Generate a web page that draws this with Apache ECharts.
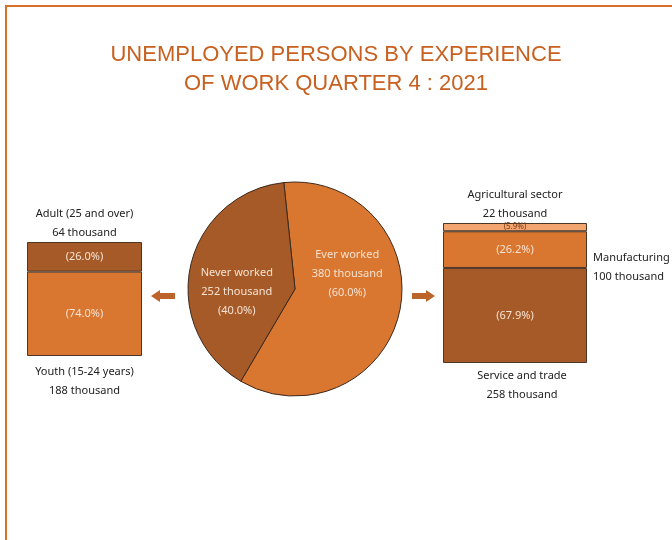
<!DOCTYPE html>
<html>
<head>
<meta charset="utf-8">
<script src="https://cdn.jsdelivr.net/npm/echarts@6/dist/echarts.min.js"></script>
<style>
html, body { margin: 0; padding: 0; background: #fff; }
#main { width: 672px; height: 540px; }
</style>
</head>
<body>
<div id="main"></div>
<script>
// unemployed persons, thousand
const pieNames = ['Ever worked', 'Never worked'];
const pieValues = [380, 252];
const piePct = [60.0, 40.0];

// never worked, by age (bottom -> top)
const ageNames = ['Youth (15-24 years)', 'Adult (25 and over)'];
const ageValues = [188, 64];
const agePct = [74.0, 26.0];

// ever worked, by sector (bottom -> top)
const sectorNames = ['Service and trade', 'Manufacturing', 'Agricultural sector'];
const sectorValues = [258, 100, 22];
const sectorPct = [67.9, 26.2, 5.9];

const DARK = '#a65a27';
const MID = '#d97630';
const LIGHT = '#f3a56f';
const txtFont = 'Noto Sans';

const chart = echarts.init(document.getElementById('main'));

function boxSeries(idx, names, values, pct, colors, outerPos) {
  const list = [];
  names.forEach(function (name, i) {
    const tiny = pct[i] < 10; // strip too thin for light text
    list.push({
      name: name,
      type: 'bar',
      xAxisIndex: idx,
      yAxisIndex: idx,
      stack: 'fill' + idx,
      barWidth: '100%',
      barGap: '-100%',
      silent: true,
      data: [pct[i]],
      itemStyle: { color: colors[i], borderColor: '#4a3526', borderWidth: 1 },
      label: {
        show: true,
        position: 'inside',
        color: tiny ? '#7a3d15' : '#f6e2d2',
        fontFamily: txtFont,
        fontSize: tiny ? 8 : 11,
        formatter: '(' + pct[i].toFixed(1) + '%)'
      }
    });
  });
  // invisible twins that carry the names and counts around the box
  names.forEach(function (name, i) {
    const pos = outerPos[i];
    list.push({
      name: name + ' ',
      type: 'bar',
      xAxisIndex: idx,
      yAxisIndex: idx,
      stack: 'txt' + idx,
      barWidth: '100%',
      barGap: '-100%',
      silent: true,
      data: [pct[i]],
      itemStyle: { color: 'transparent' },
      label: {
        show: !!pos,
        position: pos ? pos.p : 'inside',
        distance: pos ? pos.d : 0,
        offset: pos && pos.o ? pos.o : [0, 0],
        align: pos && pos.p === 'right' ? 'left' : 'center',
        color: '#222',
        fontFamily: txtFont,
        fontSize: 11,
        lineHeight: 19,
        formatter: name + '\n' + values[i] + ' thousand'
      }
    });
  });
  return list;
}

const series = []
  .concat(boxSeries(0, ageNames, ageValues, agePct, [MID, DARK],
    [{ p: 'bottom', d: 6 }, { p: 'top', d: 0 }]))
  .concat(boxSeries(1, sectorNames, sectorValues, sectorPct, [DARK, MID, LIGHT],
    [{ p: 'bottom', d: 3, o: [7, 0] }, { p: 'right', d: 6, o: [0, 18] }, { p: 'top', d: 0 }]));

const pieDy = [-27, 15];
series.push({
  type: 'pie',
  center: [295, 289],
  radius: 107,
  startAngle: 96,
  clockwise: true,
  silent: true,
  data: pieNames.map(function (n, i) {
    return { name: n, value: pieValues[i], itemStyle: { color: i === 0 ? MID : DARK } };
  }),
  itemStyle: { borderColor: '#3b2a1e', borderWidth: 1 },
  label: {
    show: true,
    position: 'inside',
    color: '#f6e2d2',
    fontFamily: txtFont,
    fontSize: 11,
    lineHeight: 19,
    formatter: function (p) {
      return p.name + '\n' + p.value + ' thousand\n(' + piePct[p.dataIndex].toFixed(1) + '%)';
    }
  },
  labelLine: { show: false },
  labelLayout: function (p) {
    return { dx: -3, dy: pieDy[p.dataIndex] };
  }
});

const hiddenAxis = { show: false };

chart.setOption({
  animation: false,
  backgroundColor: '#fff',
  title: {
    text: 'UNEMPLOYED PERSONS BY EXPERIENCE\nOF WORK QUARTER 4 : 2021',
    left: 'center',
    top: 35,
    textStyle: {
      color: '#c8601f',
      fontFamily: 'Liberation Sans',
      fontWeight: 'normal',
      fontSize: 22,
      lineHeight: 29
    }
  },
  grid: [
    { left: 27, top: 242, width: 115, height: 114 },
    { left: 443, top: 223, width: 144, height: 140 }
  ],
  xAxis: [
    Object.assign({ type: 'category', data: [''], gridIndex: 0 }, hiddenAxis),
    Object.assign({ type: 'category', data: [''], gridIndex: 1 }, hiddenAxis)
  ],
  yAxis: [
    Object.assign({ type: 'value', min: 0, max: 100, gridIndex: 0 }, hiddenAxis),
    Object.assign({ type: 'value', min: 0, max: 100, gridIndex: 1 }, hiddenAxis)
  ],
  graphic: [
    {
      type: 'rect', silent: true, z: -1,
      shape: { x: 6, y: 6, width: 700, height: 600 },
      style: { fill: 'none', stroke: '#d8702b', lineWidth: 2 }
    },
    {
      type: 'polygon', silent: true,
      shape: { points: [[151, 296], [160, 290], [160, 293], [175, 293], [175, 299], [160, 299], [160, 302]] },
      style: { fill: '#bd642a' }
    },
    {
      type: 'polygon', silent: true,
      shape: { points: [[435, 296], [426, 290], [426, 293], [412, 293], [412, 299], [426, 299], [426, 302]] },
      style: { fill: '#bd642a' }
    }
  ],
  series: series
});
</script>
</body>
</html>
